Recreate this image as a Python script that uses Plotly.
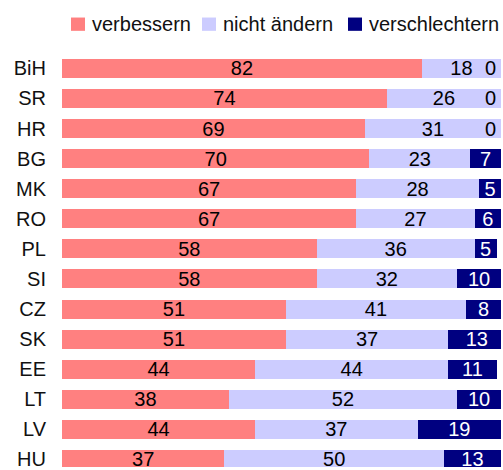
import plotly.graph_objects as go

countries = ["BiH", "SR", "HR", "BG", "MK", "RO", "PL", "SI", "CZ", "SK", "EE", "LT", "LV", "HU"]
verbessern = [82, 74, 69, 70, 67, 67, 58, 58, 51, 51, 44, 38, 44, 37]
nicht_aendern = [18, 26, 31, 23, 28, 27, 36, 32, 41, 37, 44, 52, 37, 50]
verschlechtern = [0, 0, 0, 7, 5, 6, 5, 10, 8, 13, 11, 10, 19, 13]

series_names = ["verbessern", "nicht ändern", "verschlechtern"]
series_values = [verbessern, nicht_aendern, verschlechtern]
series_colors = ["#FF8080", "#CCCCFF", "#000080"]
text_colors = ["black", "black", "white"]

FONT = "Liberation Sans, Arial, sans-serif"

W, H = 503, 470
ML, MR, MT, MB = 62, 2, 50, 0
PW, PH = W - ML - MR, H - MT - MB

def px_x(x):  # page px -> paper x
    return (x - ML) / PW

def px_y(y):  # page px -> paper y
    return 1 - (y - MT) / PH

fig = go.Figure()
for name, vals, color, tcol in zip(series_names, series_values, series_colors, text_colors):
    fig.add_trace(go.Bar(
        y=countries, x=vals, name=name, orientation="h",
        marker=dict(color=color, line=dict(width=0)),
        text=[str(v) if v > 0 else "" for v in vals],
        textposition="inside", insidetextanchor="middle", textangle=0,
        constraintext="none",
        insidetextfont=dict(color=tcol, size=20, family=FONT),
        showlegend=False,
    ))

# zero-value labels at the right end
for c, v in zip(countries, verschlechtern):
    if v == 0:
        fig.add_annotation(x=100, y=c, text=str(v), showarrow=False,
                           xanchor="right", xshift=-3,
                           font=dict(size=20, color="black", family=FONT))

# custom legend
legend_sq_x = [71, 202, 348]
for name, color, sx in zip(series_names, series_colors, legend_sq_x):
    fig.add_shape(type="rect", xref="paper", yref="paper",
                  x0=px_x(sx), x1=px_x(sx + 14), y0=px_y(30.7), y1=px_y(17.3),
                  fillcolor=color, line=dict(width=0))
    fig.add_annotation(xref="paper", yref="paper", x=px_x(sx + 19), y=px_y(24),
                       text=name, showarrow=False, xanchor="left", yanchor="middle",
                       font=dict(size=20, color="#111111", family=FONT))

fig.update_layout(
    width=W, height=H,
    margin=dict(l=ML, r=MR, t=MT, b=MB, pad=0),
    barmode="stack", bargap=0.37,
    plot_bgcolor="white", paper_bgcolor="white",
    font=dict(family=FONT, size=20, color="#111111"),
    showlegend=False,
    xaxis=dict(range=[0, 100], visible=False, fixedrange=True),
    yaxis=dict(range=[13.25, -0.61], showgrid=False, zeroline=False,
               ticks="outside", ticklen=11, tickcolor="rgba(0,0,0,0)",
               tickfont=dict(size=20), showline=False),
)
fig.write_html("out.html", config={"displayModeBar": False},
               post_script="document.body.style.margin='0';document.body.style.overflow='hidden';")
